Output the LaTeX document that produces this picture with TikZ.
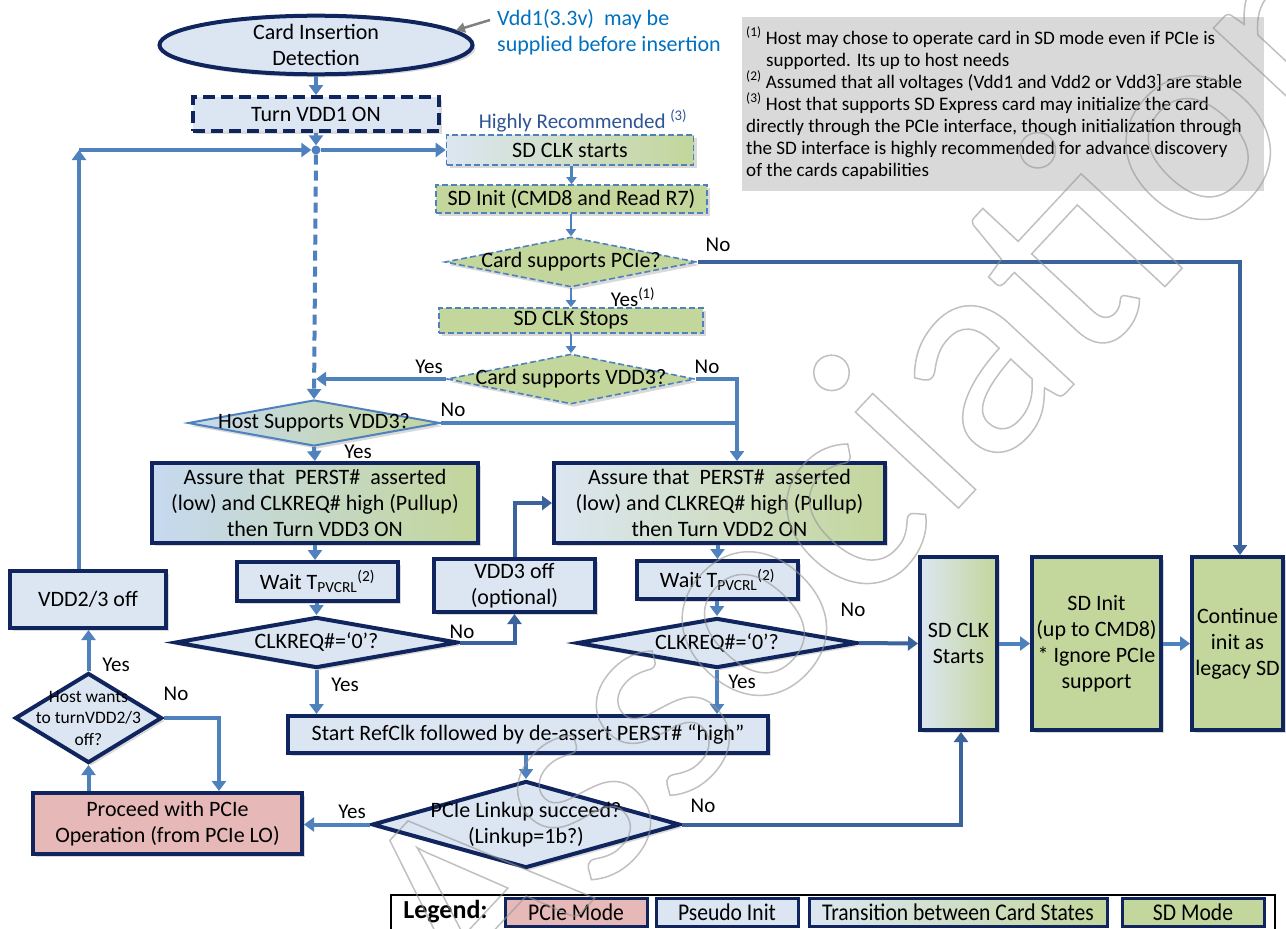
\documentclass[tikz,border=0pt]{standalone}
\usepackage{fontspec}
\setmainfont{Carlito}
\usetikzlibrary{arrows.meta,shapes.geometric,shadows,calc}
\definecolor{navy}{RGB}{16,37,94}
\definecolor{lblue}{RGB}{220,230,242}
\definecolor{mblue}{RGB}{198,217,240}
\definecolor{sdgreen}{RGB}{195,214,155}
\definecolor{pinkc}{RGB}{230,185,184}
\definecolor{arr}{RGB}{79,129,189}
\definecolor{darr}{RGB}{58,99,156}
\definecolor{notegray}{RGB}{217,217,217}
\definecolor{vblue}{RGB}{0,112,192}
\definecolor{hblue}{RGB}{47,84,150}
\definecolor{wmgray}{RGB}{150,150,150}
\newcommand{\mfs}{\fontsize{22}{26}\selectfont}
\begin{document}
\begin{tikzpicture}[x=1pt,y=-1pt,
  every node/.style={font=\mfs},
  shad/.style={drop shadow={opacity=0.3,shadow xshift=3pt,shadow yshift=-3pt}},
  box/.style={rectangle, draw=navy, line width=4pt, fill=lblue, align=center, inner sep=0pt, shad},
  gradbox/.style={box, left color=mblue, right color=sdgreen},
  gradboxl/.style={box, left color=lblue, right color=sdgreen},
  dgbox/.style={rectangle, draw=arr, line width=1.6pt, dash pattern=on 6pt off 3pt, fill=sdgreen, align=center, inner sep=0pt, shad},
  dia/.style={diamond, draw=navy, line width=4pt, fill=lblue, inner sep=0pt, shad},
  ddia/.style={diamond, draw=arr, line width=1.6pt, dash pattern=on 6pt off 3pt, fill=sdgreen, inner sep=0pt, shad},
  txt/.style={inner sep=0pt, align=center},
  lab/.style={inner sep=0pt, font=\fontsize{21}{25}\selectfont},
  arrow/.style={draw=arr, line width=4pt, -{Triangle[width=14pt,length=10pt]}},
  darrow/.style={draw=darr, line width=4pt, -{Triangle[width=14pt,length=10pt]}},
  tarrow/.style={draw=arr, line width=2.5pt, -{Triangle[width=10pt,length=7pt]}},
  legbox/.style={rectangle, draw=navy, line width=3pt, inner sep=0pt, minimum height=28pt, font=\fontsize{24}{26}\selectfont}
]
\useasboundingbox (0,0) rectangle (1286,929);

% notes box
\node[rectangle, fill=notegray, minimum width=522pt, minimum height=174pt, anchor=north west, inner sep=0pt] (notes) at (742,17) {};
\node[anchor=north west, inner sep=0pt, align=left, font=\fontsize{19.1}{22}\selectfont] (notest) at (746,27) {%
\textsuperscript{(1)} Host may chose to operate card in SD mode even if PCIe is\\
\hspace*{20pt}supported. Its up to host needs\\
\textsuperscript{(2)} Assumed that all voltages (Vdd1 and Vdd2 or Vdd3] are stable\\
\textsuperscript{(3)} Host that supports SD Express card may initialize the card\\
directly through the PCIe interface, though initialization through\\
the SD interface is highly recommended for advance discovery\\
of the cards capabilities};

% top
\node[ellipse, draw=navy, line width=4pt, fill=lblue, minimum width=313pt, minimum height=58pt, inner sep=0pt, align=center, shad] (ell) at (316,45) {Card Insertion\\Detection};
\node[anchor=west, inner sep=0pt, align=left, text=vblue] (vtxt) at (497,32) {Vdd1(3.3v)\ \ may be\\supplied before insertion};
\coordinate (vstart) at (490,20);
\draw[draw=gray, line width=2.5pt, -{Triangle[width=10pt,length=9pt]}] (vstart) -- (ell.6);

\node[box, dash pattern=on 12pt off 6pt, minimum width=246pt, minimum height=34pt] (vdd1) at (316,114) {Turn VDD1 ON};
\node[circle, fill=arr, inner sep=0pt, minimum size=9pt] (jn) at (316,150) {};

\node[txt, text=hblue, font=\fontsize{21}{25}\selectfont] (hrec) at (583,121) {Highly Recommended \textsuperscript{(3)}};
\node[dgbox, left color=lblue, right color=sdgreen, minimum width=247pt, minimum height=30pt] (sdclk) at (570,150) {SD CLK starts};
\node[dgbox, minimum width=271pt, minimum height=28pt] (sdinit) at (571.5,199) {SD Init (CMD8 and Read R7)};
\node[ddia, minimum width=252pt, minimum height=50pt] (pcie) at (571,262) {};
\node[txt] (pciet) at (pcie) {Card supports PCIe?};
\node[dgbox, minimum width=264pt, minimum height=25pt] (sdstops) at (571,320.5) {SD CLK Stops};
\node[ddia, minimum width=248pt, minimum height=50pt] (cvdd3) at (571,379) {};
\node[txt] (cvdd3t) at (cvdd3) {Card supports VDD3?};
\node[diamond, draw=arr, line width=2pt, left color=mblue, right color=sdgreen, inner sep=0pt, minimum width=252pt, minimum height=46pt, shad] (hvdd3) at (314,423) {};
\node[txt] (hvdd3t) at (hvdd3) {Host Supports VDD3?};

\node[gradbox, minimum width=326pt, minimum height=80pt] (assL) at (315,503) {Assure that\ \ PERST\#\ \ asserted\\(low) and CLKREQ\# high (Pullup)\\then Turn VDD3 ON};
\node[gradboxl, minimum width=331pt, minimum height=80pt] (assR) at (719.5,503) {Assure that\ \ PERST\#\ \ asserted\\(low) and CLKREQ\# high (Pullup)\\then Turn VDD2 ON};

\node[box, minimum width=161pt, minimum height=39pt] (waitL) at (317.5,581.5) {Wait T\textsubscript{PVCRL}\textsuperscript{(2)}};
\node[box, minimum width=161pt, minimum height=53pt] (vdd3off) at (514.5,585.5) {VDD3 off\\(optional)};
\node[box, minimum width=161pt, minimum height=38pt] (waitR) at (717.5,580) {Wait T\textsubscript{PVCRL}\textsuperscript{(2)}};
\node[dia, minimum width=283pt, minimum height=51pt] (clkL) at (316.5,642.5) {};
\node[txt] (clkLt) at (clkL) {CLKREQ\#=‘0’?};
\node[dia, minimum width=280pt, minimum height=50pt] (clkR) at (717,643) {};
\node[txt] (clkRt) at (clkR) {CLKREQ\#=‘0’?};

\node[box, minimum width=480pt, minimum height=37pt] (refclk) at (528,734.5) {Start RefClk followed by de-assert PERST\# “high”};
\node[dia, minimum width=308pt, minimum height=87pt] (link) at (526,824.5) {};
\node[txt] (linkt) at (link) {PCIe Linkup succeed?\\(Linkup=1b?)};
\node[box, fill=pinkc, minimum width=269pt, minimum height=61pt] (proceed) at (167.5,823.5) {Proceed with PCIe\\Operation (from PCIe LO)};
\node[dia, minimum width=147pt, minimum height=90pt] (hw) at (88.5,718) {};
\node[txt, font=\fontsize{17.5}{21.5}\selectfont] (hwt) at (hw) {Host wants\\to turnVDD2/3\\off?};
\node[box, minimum width=156pt, minimum height=57pt] (vdd23) at (88,599.5) {VDD2/3 off};

\node[gradboxl, minimum width=77pt, minimum height=173pt] (sdclkS) at (958.5,643.5) {SD CLK\\Starts};
\node[box, fill=sdgreen, minimum width=129pt, minimum height=173pt] (sdinit2) at (1096.5,643.5) {SD Init\\(up to CMD8)\\* Ignore PCIe\\support};
\node[box, fill=sdgreen, minimum width=91pt, minimum height=173pt] (cont) at (1237.5,643.5) {Continue\\init as\\legacy SD};

% connectors
\draw[arrow] (ell.south) -- (vdd1.north);
\draw[arrow] (vdd1.south) -- (jn);
\coordinate (lc) at (79,150);
\draw[arrow] (vdd23.north -| lc) -- (lc);
\draw[arrow] (lc) -- (jn);
\draw[arrow] (jn) -- (sdclk.west);
\draw[arrow, dash pattern=on 10pt off 6pt] (jn) -- (hvdd3.north);
\draw[tarrow] (sdinit.north |- sdclk.south) -- (sdinit.north);
\draw[tarrow] (sdinit.south -| pcie.north) -- (pcie.north);
\draw[tarrow] (pcie.south) -- (sdstops.north);
\draw[tarrow] (sdstops.south) -- (cvdd3.north);
\draw[darrow] (pcie.east) -| ($(cont.north)+(2.5,0)$);
\draw[arrow] (cvdd3.west) -- (cvdd3.west -| jn);
\coordinate (assRin) at ($(assR.north)+(17.5,0)$);
\draw[arrow] (cvdd3.east) -| (assRin);
\draw[draw=arr, line width=4pt] (hvdd3.east) -- (hvdd3.east -| assRin);
\draw[arrow] (hvdd3.south) -- (assL.north);
\draw[arrow] (assL.south) -- (assL.south |- waitL.north);
\draw[arrow] (waitL.south -| clkL.north) -- (clkL.north);
\draw[darrow] (clkL.east) -| (vdd3off.south);
\draw[darrow] (vdd3off.north) |- (assR.west);
\draw[arrow] (assR.south -| waitR.north) -- (waitR.north);
\draw[arrow] (waitR.south -| clkR.north) -- (clkR.north);
\draw[darrow] (clkR.east) -- (sdclkS.west);
\draw[arrow] (clkL.south) -- (clkL.south |- refclk.north);
\draw[arrow] (clkR.south) -- (clkR.south |- refclk.north);
\draw[arrow] (link.north |- refclk.south) -- (link.north);
\draw[arrow] (link.west) -- (link.west -| proceed.east);
\draw[darrow] (link.east) -| ($(sdclkS.south)+(2.5,0)$);
\draw[arrow] (proceed.north -| hw.south) -- (hw.south);
\coordinate (pin) at ($(proceed.north)+(51.5,0)$);
\draw[arrow] (hw.east) -| (pin);
\draw[arrow] (hw.north) -- (hw.north |- vdd23.south);
\draw[arrow] (sdclkS.east) -- (sdinit2.west);
\draw[arrow] (sdinit2.east) -- (cont.west);

% labels
\node[lab] (l1) at (718,245) {No};
\node[lab] (l2) at (633,297) {Yes\textsuperscript{(1)}};
\node[lab] (l3) at (429,367) {Yes};
\node[lab] (l4) at (707,367) {No};
\node[lab] (l5) at (453,410) {No};
\node[lab] (l6) at (358,452) {Yes};
\node[lab] (l7) at (462,632) {No};
\node[lab] (l8) at (853,610) {No};
\node[lab] (l9) at (345,685) {Yes};
\node[lab] (l10) at (742,682) {Yes};
\node[lab] (l11) at (352,812) {Yes};
\node[lab] (l12) at (703,806) {No};
\node[lab] (l13) at (176,694) {No};
\node[lab] (l14) at (116,665) {Yes};

% legend
\node[rectangle, draw=black, line width=1.5pt, fill=white, minimum width=884pt, minimum height=50pt, anchor=north west, inner sep=0pt] (legend) at (390,894) {};
\node[inner sep=0pt, font=\bfseries\fontsize{26}{28}\selectfont] (legt) at (445.5,912) {Legend:};
\node[legbox, fill=pinkc, minimum width=142pt] (lg1) at (576,912) {\scalebox{0.9}[1]{PCIe Mode}};
\node[legbox, fill=lblue, minimum width=142pt] (lg2) at (727,912) {\scalebox{0.9}[1]{Pseudo Init}};
\node[legbox, left color=lblue, right color=sdgreen, minimum width=298pt] (lg3) at (958,912) {\scalebox{0.9}[1]{Transition between Card States}};
\node[legbox, fill=sdgreen, minimum width=142pt] (lg4) at (1193,912) {\scalebox{0.9}[1]{SD Mode}};

% watermark
\node[inner sep=0pt, rotate=47, text=wmgray, opacity=0.6, font=\fontsize{295}{295}\selectfont] (wm) at (870,455) {\special{pdf:literal direct 1 Tr 1.5 w}Association\special{pdf:literal direct 0 Tr}};
\end{tikzpicture}
\end{document}
